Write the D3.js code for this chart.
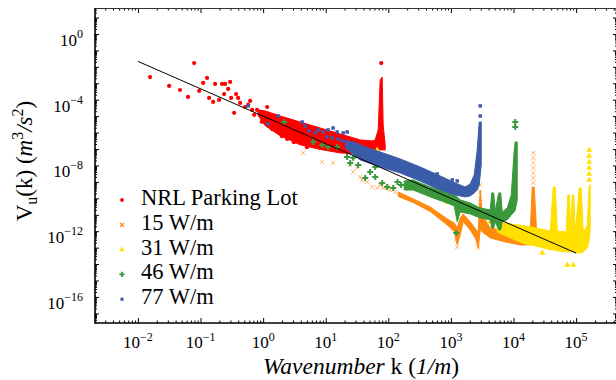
<!DOCTYPE html>
<html>
<head>
<meta charset="utf-8">
<script src="https://cdn.jsdelivr.net/npm/d3@7"></script>
<style>
  body { margin: 0; background: #fff; }
  svg { display: block; }
  text { font-family: 'Liberation Serif', 'DejaVu Serif', serif; }
</style>
</head>
<body>
<svg id="chart" width="616" height="380"></svg>
<script>
// ---- data: [k (1/m), V (m^3/s^2)] ----
var legendNames = ["NRL Parking Lot", "15 W/m", "31 W/m", "46 W/m", "77 W/m"];
var xTickExps = [-2, -1, 0, 1, 2, 3, 4, 5];
var yTickExps = [0, -4, -8, -12, -16];

// -5/3 reference line
var fitLine = [[0.01, 2.15e-2], [1e5, 4.64e-14]];

// dense parts of each series: [k, lower V, upper V]
var nrlBand = [
  [0.83, 1.1e-5, 2.4e-5], [1.08, 2.6e-6, 2.07e-5], [1.87, 6.5e-7, 1.03e-5],
  [3.9, 1.8e-7, 4.4e-6], [8.15, 9.5e-8, 1.91e-6], [17, 5.8e-8, 8.3e-7],
  [35.5, 5.0e-8, 3.6e-7], [55.2, 7.6e-8, 3.1e-7], [61.7, 6.6e-8, 3.6e-7],
  [68.9, 8.8e-8, 1.45e-6], [74.1, 8.8e-8, 1.6e-3], [79.8, 8.8e-8, 2.4e-3],
  [82.7, 8.8e-8, 2.9e-6], [89.1, 8.8e-8, 1.77e-7]
];
var nrlPoints = [
  [0.0156, 2.4e-3], [0.0315, 6.9e-4], [0.047, 3.9e-4], [0.063, 1.47e-4], [0.079, 1.7e-2],
  [0.095, 3.4e-4], [0.11, 1.05e-3], [0.127, 2.1e-3], [0.137, 1.28e-4], [0.159, 7.3e-5],
  [0.171, 9.1e-4], [0.198, 9.7e-5], [0.221, 9.1e-4], [0.238, 2.2e-4], [0.247, 9.1e-4],
  [0.276, 4.5e-4], [0.297, 1.2e-3], [0.308, 1.28e-4], [0.344, 1.6e-5], [0.37, 2.2e-4],
  [0.398, 1.28e-4], [0.429, 6.4e-5], [0.515, 3.6e-5], [0.576, 4.8e-5], [0.62, 8.4e-5],
  [0.667, 2.4e-5], [0.718, 1.2e-5], [0.80, 2.4e-5], [0.895, 1.8e-5], [1.0, 8.9e-6],
  [1.16, 3.6e-5], [1.16, 3.9e-6], [1.29, 7.8e-6], [1.67, 1.9e-6], [2.42, 4.1e-7],
  [1.4, 1.6e-6], [2.0, 6.0e-7], [0.95, 4.5e-6], [3.1, 2.6e-7], [5.0, 1.3e-7],
  [77, 1.7e-2]
];

var w15Band = [
  [144, 1.3e-10, 2.45e-10], [250, 5.5e-11, 9.2e-11], [467, 1.6e-11, 3.0e-11],
  [872, 2.4e-12, 5.6e-12], [1130, 9.5e-13, 3.2e-12], [1262, 1.46e-13, 1.58e-12],
  [1406, 5.9e-13, 6.4e-12], [1571, 3.7e-12, 1.12e-11], [2033, 1.2e-12, 3.7e-12],
  [2540, 2.95e-13, 1.2e-12], [2730, 9.6e-14, 9.0e-13], [2940, 1.2e-12, 3.2e-10],
  [3160, 9.0e-13, 9.8e-12], [4250, 3.9e-13, 1.58e-12], [7370, 2.23e-13, 1.04e-12],
  [12800, 1.46e-13, 6.8e-13], [18500, 1.46e-13, 9.0e-13], [19900, 1.68e-13, 4.9e-10],
  [21400, 2.95e-13, 4.9e-10], [23100, 3.9e-13, 2.4e-12]
];
var w15Points = [
  [4.36, 5.8e-8], [8.77, 1.64e-8], [13.1, 1.42e-8], [24.6, 1.08e-8], [31.8, 7.1e-9],
  [27.4, 4.0e-9], [35.5, 2.0e-9], [38.2, 1.32e-9], [45.9, 1.0e-9], [55.2, 4.9e-10],
  [66.4, 4.3e-10], [74.1, 6.5e-10], [82.7, 4.3e-10], [95.9, 4.9e-10], [107, 3.2e-10],
  [129, 2.45e-10],
  [20700, 5.8e-8], [20700, 2.9e-8], [20700, 1.42e-8], [20700, 7.1e-9], [20700, 3.5e-9],
  [20700, 1.74e-9], [20700, 8.6e-10],
  [2940, 6.5e-10], [2940, 2.45e-10], [2940, 9.2e-11], [2940, 3.45e-11],
  [1262, 1.1e-13], [1216, 2.95e-13], [2730, 9.6e-14], [2630, 2.0e-13]
];

var w31Band = [
  [5490, 9.0e-13, 3.7e-12], [8870, 3.9e-13, 2.8e-12], [15400, 1.68e-13, 2.1e-12],
  [26700, 1.1e-13, 1.38e-12], [38600, 7.3e-14, 1.04e-12], [43100, 7.3e-14, 4.9e-10],
  [46400, 7.3e-14, 4.9e-10], [50000, 6.3e-14, 1.04e-12], [69600, 5.5e-14, 9.0e-13],
  [73600, 5.5e-14, 1.61e-10], [77800, 5.5e-14, 1.61e-10], [82200, 5.5e-14, 9.0e-13],
  [86900, 5.5e-14, 1.61e-10], [91800, 5.5e-14, 1.61e-10], [97000, 4.8e-14, 7.9e-13],
  [112000, 4.8e-14, 4.3e-10], [121000, 4.8e-14, 4.3e-10], [130000, 5.5e-14, 7.9e-13],
  [151000, 9.6e-14, 2.4e-12], [162000, 2.95e-13, 6.5e-10], [168000, 1.2e-12, 6.5e-10]
];
var w31Points = [
  [66.4, 8.8e-8], [240, 5.7e-10], [872, 6.0e-11], [1088, 5.2e-11], [2190, 1.49e-11],
  [3160, 9.8e-12], [4250, 3.7e-12], [28800, 4.8e-14], [72200, 8.9e-15], [90100, 8.9e-15],
  [162000, 8.8e-8], [162000, 3.8e-8], [162000, 1.64e-8], [162000, 7.1e-9],
  [162000, 3.05e-9], [162000, 1.32e-9]
];

var w46Band = [
  [179, 3.2e-10, 1.14e-9], [250, 3.2e-10, 1.32e-9], [467, 1.22e-10, 4.9e-10],
  [872, 5.2e-11, 2.13e-10], [1130, 3.45e-11, 1.61e-10], [1262, 3.7e-12, 1.22e-10],
  [1406, 1.49e-11, 8.0e-11], [2033, 1.12e-11, 5.2e-11], [2940, 6.4e-12, 2.6e-11],
  [4250, 4.9e-12, 1.97e-11], [4490, 1.58e-12, 2.13e-10], [4830, 1.58e-12, 2.13e-10],
  [5100, 3.7e-12, 1.71e-11], [5800, 1.2e-12, 2.13e-10], [6250, 1.2e-12, 2.13e-10],
  [6600, 3.7e-12, 1.49e-11], [7940, 4.9e-12, 2.6e-11], [9200, 9.8e-12, 1.61e-10],
  [10270, 1.49e-11, 8.8e-8], [10650, 1.97e-11, 2.7e-7], [11460, 8.0e-11, 2.7e-7]
];
var w46Points = [
  [2.17, 4.4e-6], [6.3, 2.7e-7], [8.77, 1.77e-7], [10.9, 1.34e-7], [15.2, 1.34e-7],
  [22, 3.3e-8], [24.6, 1.42e-8], [27.4, 2.9e-8], [33, 1.08e-8], [42.7, 1.74e-9],
  [51.3, 4.0e-9], [61.7, 2.0e-9], [61.7, 8.1e-9], [79.8, 8.6e-10], [95.9, 4.9e-10],
  [120, 4.3e-10], [140, 1.0e-9], [160, 6.5e-10], [1216, 7.9e-13],
  [10650, 4.4e-6], [10650, 2.2e-6]
];

var w77Band = [
  [20.5, 1.2e-7, 3.6e-7], [35.5, 2.17e-8, 1.77e-7], [74.1, 8.1e-9, 6.6e-8],
  [155, 3.5e-9, 2.5e-8], [323, 1.14e-9, 8.1e-9], [674, 3.2e-10, 2.3e-9],
  [1171, 1.61e-10, 8.6e-10], [1690, 1.22e-10, 4.9e-10], [2033, 1.4e-10, 7.5e-10],
  [2355, 2.13e-10, 2.65e-9], [2630, 3.2e-10, 8.8e-8], [2830, 6.5e-10, 4.4e-6],
  [3050, 1.08e-8, 4.4e-6]
];
var w77Points = [
  [0.576, 4.2e-5], [1.2, 3.4e-6], [1.74, 1.03e-5], [4.2, 4.4e-6], [4.69, 2.5e-6],
  [5.43, 1.26e-6], [6.78, 9.5e-7], [7.57, 1.45e-6], [9.1, 1.09e-6], [10.5, 5.4e-7],
  [10.9, 1.45e-6], [12.7, 4.7e-7], [13.1, 1.9e-6], [15.2, 1.09e-6], [15.8, 4.1e-7],
  [18.3, 3.1e-7], [19, 9.5e-7], [22, 1.09e-6], [24.6, 1.34e-7], [27.4, 2.34e-7],
  [33, 1.77e-7], [604, 3.05e-9], [1050, 1.32e-9], [1260, 1.14e-9],
  [2940, 4.2e-5], [2940, 1.03e-5]
];

// ---- chart ----
var svg = d3.select('#chart');

var box = {left: 95, top: 8, right: 617, bottom: 323};
var serif = "'Liberation Serif', 'DejaVu Serif', serif";

var x = d3.scaleLog().domain([2.06e-3, 4.5e5]).range([box.left, box.right]);
var y = d3.scaleLog().domain([2.6e-18, 38]).range([box.bottom, box.top]);

svg.append('defs').append('clipPath').attr('id', 'plotClip')
  .append('rect')
  .attr('x', box.left).attr('y', box.top)
  .attr('width', box.right - box.left).attr('height', box.bottom - box.top);

var plot = svg.append('g').attr('clip-path', 'url(#plotClip)');

var series = [
  {band: nrlBand, pts: nrlPoints, color: '#ff0000', sym: d3.symbolCircle, size: 14, stroked: false},
  {band: w15Band, pts: w15Points, color: '#ff8a10', sym: d3.symbolTimes, size: 14, stroked: true},
  {band: w31Band, pts: w31Points, color: '#ffe000', sym: d3.symbolTriangle, size: 16, stroked: false},
  {band: w46Band, pts: w46Points, color: '#3a983a', sym: d3.symbolCross, size: 20, stroked: false},
  {band: w77Band, pts: w77Points, color: '#3b5ca8', sym: d3.symbolSquare, size: 12, stroked: false}
];

var area = d3.area()
  .x(function(d) { return x(d[0]); })
  .y0(function(d) { return y(d[1]); })
  .y1(function(d) { return y(d[2]); });

series.forEach(function(s) {
  plot.append('path')
    .datum(s.band)
    .attr('d', area)
    .attr('fill', s.color)
    .attr('stroke', s.color)
    .attr('stroke-width', 1)
    .attr('stroke-linejoin', 'round');

  var marks = plot.append('g').selectAll('path')
    .data(s.pts)
    .enter().append('path')
    .attr('transform', function(d) { return 'translate(' + x(d[0]) + ',' + y(d[1]) + ')'; })
    .attr('d', d3.symbol(s.sym, s.size));
  if (s.stroked) {
    marks.attr('fill', 'none').attr('stroke', s.color).attr('stroke-opacity', 0.6).attr('stroke-width', 1);
  } else {
    marks.attr('fill', s.color);
  }
});

plot.append('path')
  .datum(fitLine)
  .attr('d', d3.line().x(function(d) { return x(d[0]); }).y(function(d) { return y(d[1]); }))
  .attr('fill', 'none')
  .attr('stroke', '#000')
  .attr('stroke-width', 1);

// ---- ticks (all pointing inward) ----
var xMajor = [], xMinor = [], yMajor = [], yMinor = [];
d3.range(-18, 7).forEach(function(e) {
  var p = Math.pow(10, e);
  if (p > x.domain()[0] && p < x.domain()[1]) xMajor.push(p);
  if (p > y.domain()[0] && p < y.domain()[1]) yMajor.push(p);
  for (var m = 2; m <= 9; m++) {
    var v = m * p;
    if (v > x.domain()[0] && v < x.domain()[1]) xMinor.push(v);
    if (v > y.domain()[0] && v < y.domain()[1]) yMinor.push(v);
  }
});

function tickGroup(axisFn, scale, values, len, tx, ty) {
  svg.append('g')
    .attr('transform', 'translate(' + tx + ',' + ty + ')')
    .call(axisFn(scale).tickValues(values).tickSize(-len).tickFormat(''))
    .call(function(g) { g.select('.domain').remove(); })
    .call(function(g) { g.selectAll('line').attr('stroke', '#000'); });
}

tickGroup(d3.axisBottom, x, xMajor, 5, 0, box.bottom);
tickGroup(d3.axisBottom, x, xMinor, 2.5, 0, box.bottom);
tickGroup(d3.axisTop, x, xMajor, 5, 0, box.top);
tickGroup(d3.axisTop, x, xMinor, 2.5, 0, box.top);
tickGroup(d3.axisLeft, y, yMajor, 4, box.left, 0);
tickGroup(d3.axisLeft, y, yMinor, 2, box.left, 0);
tickGroup(d3.axisRight, y, yMajor, 4, box.right, 0);
tickGroup(d3.axisRight, y, yMinor, 2, box.right, 0);

// frame
svg.append('line').attr('x1', box.left).attr('x2', box.right).attr('y1', box.top + 0.5).attr('y2', box.top + 0.5)
  .attr('stroke', '#333').attr('stroke-width', 1);
svg.append('line').attr('x1', box.right - 0.5).attr('x2', box.right - 0.5).attr('y1', box.top).attr('y2', box.bottom)
  .attr('stroke', '#333').attr('stroke-width', 1);
svg.append('line').attr('x1', box.left).attr('x2', box.right).attr('y1', box.bottom).attr('y2', box.bottom)
  .attr('stroke', '#000').attr('stroke-width', 1.6);
svg.append('line').attr('x1', box.left).attr('x2', box.left).attr('y1', box.top).attr('y2', box.bottom + 0.8)
  .attr('stroke', '#000').attr('stroke-width', 1.6);

function expText(e) { return e < 0 ? '\u2212' + (-e) : String(e); }

// x tick labels
xTickExps.forEach(function(e) {
  var t = svg.append('text')
    .attr('x', x(Math.pow(10, e)))
    .attr('y', 348)
    .attr('text-anchor', 'middle')
    .attr('font-family', serif)
    .attr('font-size', 17);
  t.append('tspan').text('10');
  t.append('tspan').attr('dy', -7).attr('font-size', 12).text(expText(e));
});

// y tick labels
yTickExps.forEach(function(e) {
  var t = svg.append('text')
    .attr('x', 83)
    .attr('y', y(Math.pow(10, e)) + 12)
    .attr('text-anchor', 'end')
    .attr('font-family', serif)
    .attr('font-size', 17);
  t.append('tspan').text('10');
  t.append('tspan').attr('dy', -8).attr('font-size', 12).text(expText(e));
});

// axis titles
var xt = svg.append('text')
  .attr('x', 361).attr('y', 374)
  .attr('text-anchor', 'middle')
  .attr('font-family', serif)
  .attr('font-size', 23.5);
xt.append('tspan').attr('font-style', 'italic').text('Wavenumber');
xt.append('tspan').text(' k (');
xt.append('tspan').attr('font-style', 'italic').text('1/m');
xt.append('tspan').text(')');

var yt = svg.append('text')
  .attr('transform', 'translate(32,161) rotate(-90)')
  .attr('text-anchor', 'middle')
  .attr('font-family', serif)
  .attr('font-size', 23);
yt.append('tspan').text('V');
yt.append('tspan').attr('dy', 5).attr('font-size', 16).text('u');
yt.append('tspan').attr('dy', -5).text('(k) (');
yt.append('tspan').attr('font-style', 'italic').text('m');
yt.append('tspan').attr('dy', -9).attr('font-size', 16).text('3');
yt.append('tspan').attr('dy', 9).attr('font-style', 'italic').text('/s');
yt.append('tspan').attr('dy', -9).attr('font-size', 16).text('2');
yt.append('tspan').attr('dy', 9).text(')');

// legend
var legend = svg.append('g');
series.forEach(function(s, i) {
  var cy = 200 + i * 24.8;
  var m = legend.append('path')
    .attr('transform', 'translate(122,' + cy + ')')
    .attr('d', d3.symbol(s.sym, s.size * 0.8));
  if (s.stroked) {
    m.attr('fill', 'none').attr('stroke', s.color).attr('stroke-width', 1.3);
  } else {
    m.attr('fill', s.color);
  }
  legend.append('text')
    .attr('x', 141)
    .attr('y', cy + 5)
    .attr('font-family', serif)
    .attr('font-size', 22.5)
    .text(legendNames[i]);
});
</script>
</body>
</html>
